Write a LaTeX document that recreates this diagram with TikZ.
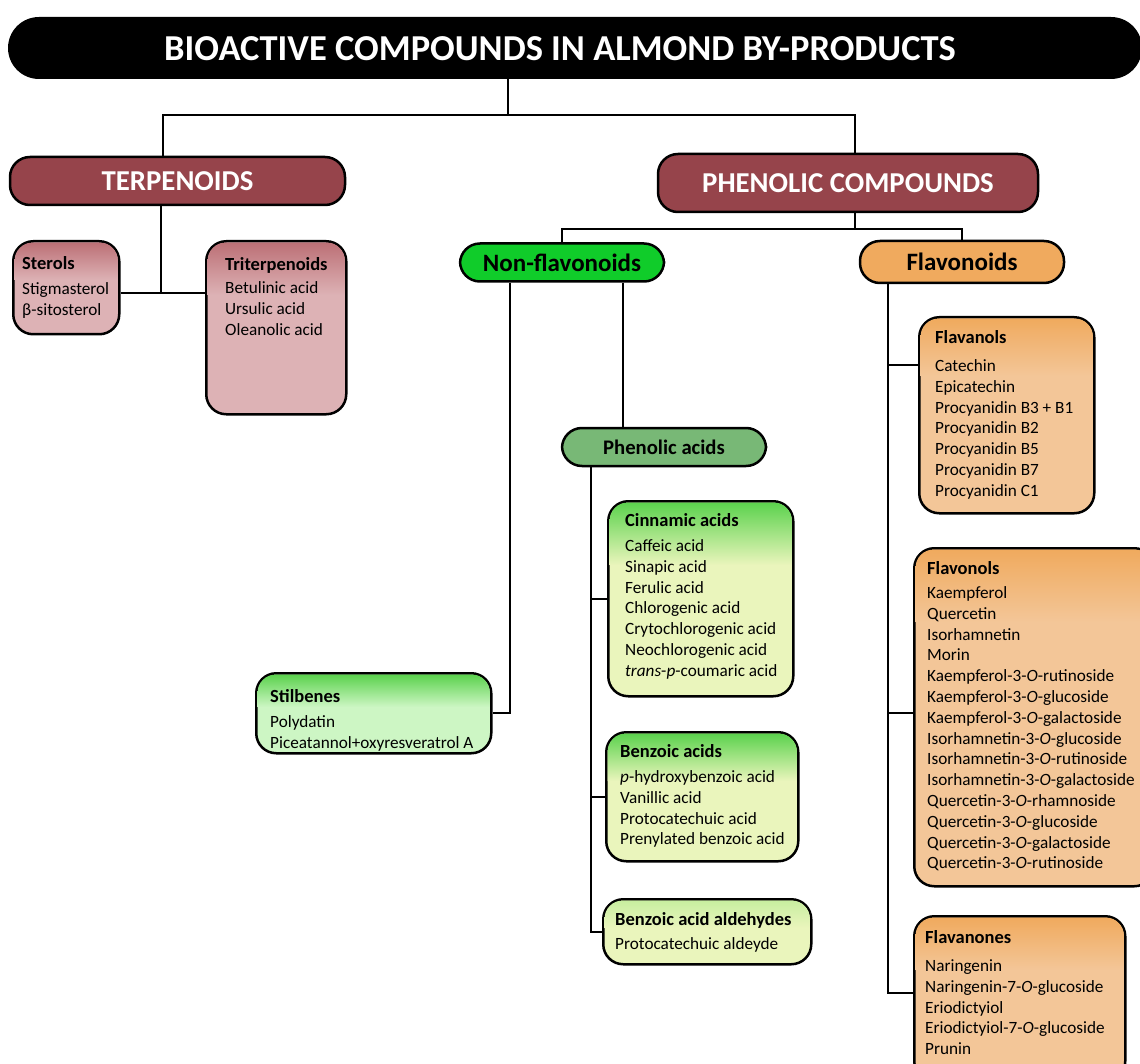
\documentclass[tikz,border=0pt]{standalone}
\usepackage{fontspec}
\setmainfont{Carlito}
\usetikzlibrary{calc}

\definecolor{terpred}{RGB}{150,68,75}
\definecolor{terptop}{RGB}{188,112,118}
\definecolor{terpbot}{RGB}{221,178,181}
\definecolor{nongreen}{RGB}{16,204,42}
\definecolor{acidgreen}{RGB}{120,184,118}
\definecolor{greentop}{RGB}{92,210,78}
\definecolor{cinnbot}{RGB}{234,245,188}
\definecolor{stilbot}{RGB}{205,246,196}
\definecolor{aldtop}{RGB}{200,238,160}
\definecolor{flavorange}{RGB}{240,170,94}
\definecolor{orangebot}{RGB}{243,198,152}

\newcommand{\Bf}[1]{{\fontsize{18.5}{20.8}\selectfont\bfseries #1}}
% shaded top band of a list box: box, top colour, bottom colour, depth
\newcommand{\band}[4]{%
  \shade[top color=#2, bottom color=#3, rounded corners=18pt]
    ($(#1.north west)+(2.6,#4)$) -- ($(#1.north west)+(2.6,2.6)$) --
    ($(#1.north east)+(-2.6,2.6)$) -- ($(#1.north east)+(-2.6,#4)$);}

\tikzset{
  link/.style={line width=2.5pt},
  bar/.style={fill=black, rounded corners=31pt, minimum width=1134pt, minimum height=62pt, inner sep=0pt},
  pill/.style={draw=black, line width=2.5pt, fill=#1, rounded corners=20pt, inner sep=0pt},
  headtext/.style={text=white, font=\bfseries\fontsize{28.8}{30}\selectfont},
  subtext/.style={text=black, font=\bfseries\fontsize{25}{27}\selectfont},
  listbox/.style={draw=black, line width=2.5pt, rounded corners=20pt,
    inner sep=0pt, anchor=north west, fill=#1},
  items/.style={anchor=north west, inner sep=0pt, align=left,
    font=\fontsize{17.2}{20.8}\selectfont},
}

\begin{document}
\begin{tikzpicture}[x=1pt, y=-1pt]
\useasboundingbox (0,0) rectangle (1140,1064);

%%%%%%%%%%%%%%%%%%%%%%%%%%%%%%%%%%%%%%%%%%%%%%%%%%%%%%%%%%%%%% title
\node[bar] (title) at (575,48) {};
\node[text=white, font=\bfseries\fontsize{36.5}{38}\selectfont] (titletxt) at (560,49)
  {BIOACTIVE COMPOUNDS IN ALMOND BY-PRODUCTS};

%%%%%%%%%%%%%%%%%%%%%%%%%%%%%%%%%%%%%%%%%%%%%%%%%%%%%%%%%%%%%% main groups
\node[pill=terpred, minimum width=335pt, minimum height=48pt, headtext] (terp) at (177.5,181) {TERPENOIDS};
\node[pill=terpred, minimum width=380pt, minimum height=58pt, headtext] (phen) at (848,183) {PHENOLIC COMPOUNDS};

\coordinate (j0) at (508,115);
\coordinate (jT) at (163,115);
\coordinate (jP) at (855,115);
\draw[link] (j0 |- title.south) -- (j0);
\draw[link] (jT |- terp.north) -- (jT) -- (jP) -- (jP |- phen.north);

%%%%%%%%%%%%%%%%%%%%%%%%%%%%%%%%%%%%%%%%%%%%%%%%%%%%%%%%%%%%%% terpenoids
\node[listbox=terpbot, minimum width=106pt, minimum height=93pt] (sterols) at (12,240) {};
\band{sterols}{terptop}{terpbot}{40}
\node[items] (sterolstxt) at (22,256.5) {\Bf{Sterols}\\[4pt] Stigmasterol\\ β-sitosterol};

\node[listbox=terpbot, minimum width=140pt, minimum height=173pt] (triterp) at (205,240) {};
\band{triterp}{terptop}{terpbot}{55}
\node[items] (triterptxt) at (225,257.5) {\Bf{Triterpenoids}\\[2pt] Betulinic acid\\ Ursulic acid\\ Oleanolic acid};

\coordinate (jS) at (161,293);
\draw[link] (jS |- terp.south) -- (jS);
\draw[link] (sterols.east |- jS) -- (triterp.west |- jS);

%%%%%%%%%%%%%%%%%%%%%%%%%%%%%%%%%%%%%%%%%%%%%%%%%%%%%%%%%%%%%% phenolic split
\node[pill=nongreen, minimum width=204pt, minimum height=38pt, subtext] (nonflav) at (562,262.5) {Non-flavonoids};
\node[pill=flavorange, minimum width=204pt, minimum height=42pt, subtext] (flav) at (962,262) {Flavonoids};

\coordinate (jN) at (562,229);
\coordinate (jF) at (962,229);
\draw[link] (jP |- phen.south) -- (jP |- jN);
\draw[link] (jN |- nonflav.north) -- (jN) -- (jF) -- (jF |- flav.north);

%%%%%%%%%%%%%%%%%%%%%%%%%%%%%%%%%%%%%%%%%%%%%%%%%%%%%%%%%%%%%% non-flavonoids
\node[listbox=stilbot, minimum width=235pt, minimum height=80pt] (stilb) at (255,672) {};
\band{stilb}{greentop}{stilbot}{35}
\node[items] (stilbtxt) at (270,689.5) {\Bf{Stilbenes}\\[4pt] Polydatin\\ Piceatannol+oxyresveratrol A};

\node[pill=acidgreen, minimum width=204pt, minimum height=38pt, font=\bfseries\fontsize{20.7}{22}\selectfont] (phacids) at (664,447) {Phenolic acids};

\coordinate (jSt) at (510,713);
\coordinate (jPA) at (623,0);
\draw[link] (jSt |- nonflav.south) -- (jSt) -- (stilb.east |- jSt);
\draw[link] (jPA |- nonflav.south) -- (jPA |- phacids.north);

\node[listbox=cinnbot, minimum width=185pt, minimum height=195pt] (cinn) at (607,500) {};
\band{cinn}{greentop}{cinnbot}{65}
\node[items] (cinntxt) at (625,513.5) {\Bf{Cinnamic acids}\\[4pt] Caffeic acid\\ Sinapic acid\\ Ferulic acid\\ Chlorogenic acid\\
  Crytochlorogenic acid\\ Neochlorogenic acid\\ \textit{trans}-\textit{p}-coumaric acid};

\node[listbox=cinnbot, minimum width=192pt, minimum height=129pt] (benz) at (605,731) {};
\band{benz}{greentop}{cinnbot}{50}
\node[items] (benztxt) at (620,744.5) {\Bf{Benzoic acids}\\[4pt] \textit{p}-hydroxybenzoic acid\\ Vanillic acid\\
  Protocatechuic acid\\ Prenylated benzoic acid};

\node[listbox=cinnbot, minimum width=208pt, minimum height=65pt] (aldeh) at (602,898) {};
\band{aldeh}{aldtop}{cinnbot}{30}
\node[items] (aldehtxt) at (615,912.5) {\Bf{Benzoic acid aldehydes}\\[3pt] Protocatechuic aldeyde};

\coordinate (jA) at (591,0);
\draw[link] (jA |- phacids.south) -- (jA |- aldeh.west) -- (aldeh.west);
\draw[link] (cinn.west) -- (cinn.west -| jA);
\draw[link] (benz.west) -- (benz.west -| jA);

%%%%%%%%%%%%%%%%%%%%%%%%%%%%%%%%%%%%%%%%%%%%%%%%%%%%%%%%%%%%%% flavonoids
\node[listbox=orangebot, minimum width=175pt, minimum height=196pt] (flavanols) at (918,316) {};
\band{flavanols}{flavorange}{orangebot}{60}
\node[items] (flavanolstxt) at (935,330.5) {\Bf{Flavanols}\\[7pt] Catechin\\ Epicatechin\\ Procyanidin B3 + B1\\
  Procyanidin B2\\ Procyanidin B5\\ Procyanidin B7\\ Procyanidin C1};

\node[listbox=orangebot, minimum width=240pt, minimum height=338pt] (flavonols) at (913,547) {};
\band{flavonols}{flavorange}{orangebot}{75}
\node[items] (flavonolstxt) at (927,561.5) {\Bf{Flavonols}\\[3pt] Kaempferol\\ Quercetin\\ Isorhamnetin\\ Morin\\
  Kaempferol-3-\textit{O}-rutinoside\\ Kaempferol-3-\textit{O}-glucoside\\ Kaempferol-3-\textit{O}-galactoside\\
  Isorhamnetin-3-\textit{O}-glucoside\\ Isorhamnetin-3-\textit{O}-rutinoside\\ Isorhamnetin-3-\textit{O}-galactoside\\
  Quercetin-3-\textit{O}-rhamnoside\\ Quercetin-3-\textit{O}-glucoside\\ Quercetin-3-\textit{O}-galactoside\\
  Quercetin-3-\textit{O}-rutinoside};

\node[listbox=orangebot, minimum width=211pt, minimum height=165pt] (flavanones) at (913,915) {};
\band{flavanones}{flavorange}{orangebot}{55}
\node[items] (flavanonestxt) at (925,930.5) {\Bf{Flavanones}\\[7pt] Naringenin\\ Naringenin-7-\textit{O}-glucoside\\
  Eriodictyiol\\ Eriodictyiol-7-\textit{O}-glucoside\\ Prunin};

\coordinate (jFl) at (888,0);
\coordinate (cFa) at (918,365);
\coordinate (cFo) at (913,713);
\coordinate (cFn) at (913,993);
\draw[link] (jFl |- flav.south) -- (jFl |- cFn) -- (cFn);
\draw[link] (cFa -| jFl) -- (cFa);
\draw[link] (cFo -| jFl) -- (cFo);

\end{tikzpicture}
\end{document}
